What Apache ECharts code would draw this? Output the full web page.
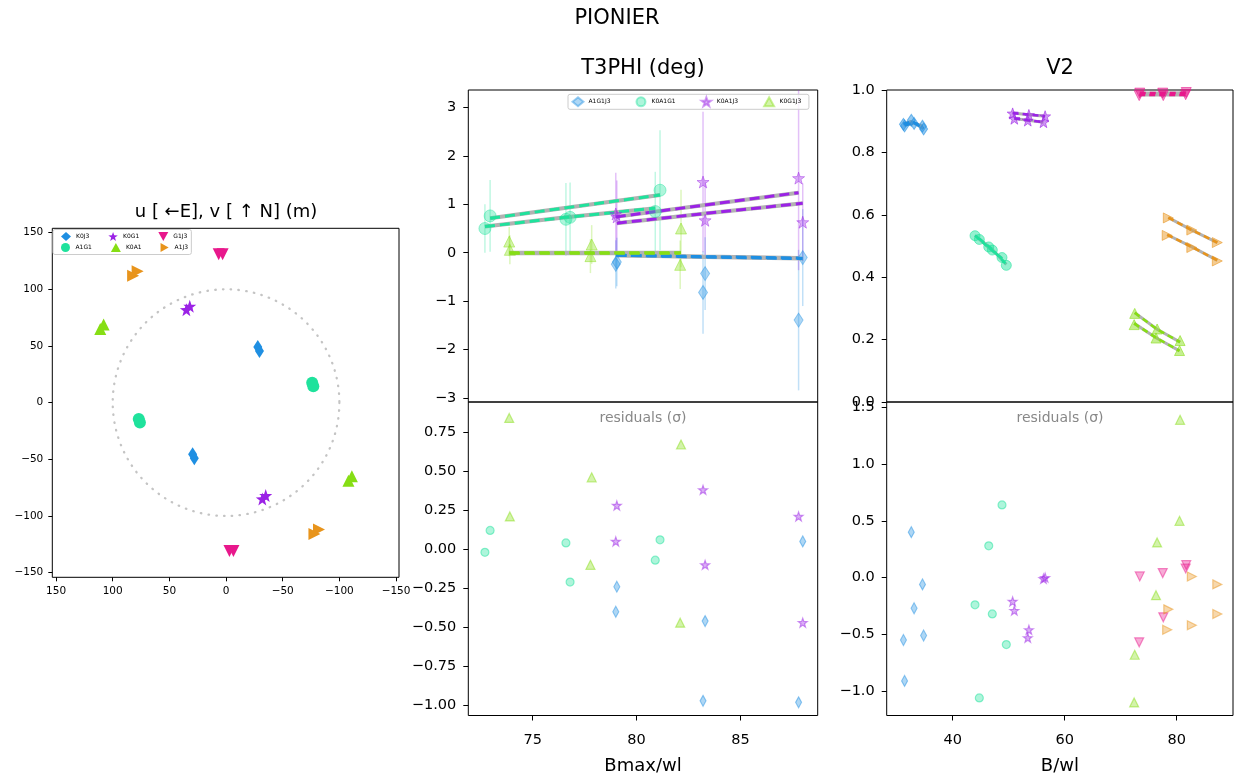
<!DOCTYPE html>
<html><head><meta charset="utf-8">
<script src="https://cdn.jsdelivr.net/npm/echarts@6/dist/echarts.min.js"></script>
<style>html,body{margin:0;padding:0;background:#fff}#c{width:1238px;height:778px}</style>
</head><body><div id="c"></div>
<script>
// ================= DATA =================
// uv coverage (m); u axis displayed with E to the left
const uvBaselines = ['K0J3','A1G1','K0G1','K0A1','G1J3','A1J3'];
const uvU_K0J3 = [-28, -29.5, 28, 29.5];   const uvV_K0J3 = [49, 45.5, -49, -45.5];
const uvU_A1G1 = [-76, -77, 76, 77];       const uvV_A1G1 = [17.5, 14.5, -17.5, -14.5];
const uvU_K0G1 = [35, 32, -35, -32];       const uvV_K0G1 = [82, 85, -82, -85];
const uvU_K0A1 = [111, 108, -111, -108];   const uvV_K0A1 = [65, 69, -65, -69];
const uvU_G1J3 = [6.5, 3, -6.5, -3];       const uvV_G1J3 = [131, 131, -131, -131];
const uvU_A1J3 = [82, 78, -82, -78];       const uvV_A1J3 = [112, 116, -112, -116];
const uvRefRadius = [100];

// closure phases (deg) vs Bmax/wl, two observations x three channels
const t3Triangles = ['A1G1J3','K0A1G1','K0A1J3','K0G1J3'];
const t3X_A1G1J3   = [[79.0, 83.2, 87.8], [79.05, 83.3, 88.0]];
const t3Phi_A1G1J3 = [[-0.24, -0.82, -1.39], [-0.19, -0.43, -0.10]];
const t3Err_A1G1J3 = [[0.50, 0.85, 1.45], [0.50, 0.75, 1.00]];
const t3Mod_A1G1J3 = [[-0.05, -0.08, -0.11], [-0.05, -0.09, -0.12]];
const t3Res_A1G1J3 = [[-0.40, -0.97, -0.98], [-0.24, -0.46, 0.05]];

const t3X_K0A1G1   = [[72.95, 76.8, 81.13], [72.7, 76.6, 80.9]];
const t3Phi_K0A1G1 = [[0.76, 0.73, 1.29], [0.50, 0.69, 0.85]];
const t3Err_K0A1G1 = [[0.74, 0.72, 1.24], [0.50, 0.75, 0.82]];
const t3Mod_K0A1G1 = [[0.71, 0.94, 1.19], [0.54, 0.73, 0.92]];
const t3Res_K0A1G1 = [[0.12, -0.21, 0.06], [-0.02, 0.04, -0.07]];

const t3X_K0A1J3   = [[79.0, 83.2, 87.8], [79.05, 83.3, 88.0]];
const t3Phi_K0A1J3 = [[0.80, 1.46, 1.54], [0.74, 0.67, 0.63]];
const t3Err_K0A1J3 = [[0.85, 1.45, 1.90], [0.75, 0.80, 0.80]];
const t3Mod_K0A1J3 = [[0.74, 0.98, 1.24], [0.61, 0.81, 1.02]];
const t3Res_K0A1J3 = [[0.05, 0.38, 0.21], [0.28, -0.10, -0.47]];

const t3X_K0G1J3   = [[73.87, 77.84, 82.14], [73.9, 77.78, 82.1]];
const t3Phi_K0G1J3 = [[0.23, 0.17, 0.50], [0.06, -0.07, -0.25]];
const t3Err_K0G1J3 = [[0.30, 0.40, 0.80], [0.30, 0.35, 0.50]];
const t3Mod_K0G1J3 = [[0.0, 0.0, 0.0], [-0.01, -0.01, -0.01]];
const t3Res_K0G1J3 = [[0.84, 0.46, 0.67], [0.21, -0.10, -0.47]];

// squared visibilities vs B/wl
const v2X_K0J3   = [[31.2, 32.6, 34.6], [31.4, 33.1, 34.8]];
const v2_K0J3    = [[0.890, 0.903, 0.884], [0.885, 0.893, 0.875]];
const v2Mod_K0J3 = [[0.891, 0.899, 0.884], [0.887, 0.894, 0.877]];
const v2Res_K0J3 = [[-0.55, 0.40, -0.06], [-0.91, -0.27, -0.51]];

const v2X_A1G1   = [[43.98, 46.43, 48.8], [44.75, 47.07, 49.57]];
const v2_A1G1    = [[0.533, 0.497, 0.463], [0.521, 0.487, 0.438]];
const v2Mod_A1G1 = [[0.534, 0.495, 0.460], [0.523, 0.489, 0.441]];
const v2Res_A1G1 = [[-0.24, 0.28, 0.64], [-1.06, -0.32, -0.59]];

const v2X_K0G1   = [[50.7, 53.6, 56.5], [51.0, 53.4, 56.2]];
const v2_K0G1    = [[0.925, 0.920, 0.916], [0.908, 0.902, 0.897]];
const v2Mod_K0G1 = [[0.926, 0.921, 0.916], [0.909, 0.903, 0.897]];
const v2Res_K0G1 = [[-0.21, -0.46, 0.0], [-0.29, -0.53, -0.01]];

const v2X_K0A1   = [[72.5, 76.5, 80.6], [72.4, 76.3, 80.5]];
const v2_K0A1    = [[0.284, 0.234, 0.197], [0.248, 0.205, 0.165]];
const v2Mod_K0A1 = [[0.286, 0.233, 0.192], [0.252, 0.206, 0.164]];
const v2Res_K0A1 = [[-0.68, 0.31, 1.39], [-1.10, -0.155, 0.50]];

const v2X_G1J3   = [[73.4, 77.5, 81.7], [73.3, 77.6, 81.6]];
const v2_G1J3    = [[0.990, 0.990, 0.992], [0.982, 0.982, 0.985]];
const v2Mod_G1J3 = [[0.990, 0.990, 0.991], [0.984, 0.984, 0.984]];
const v2Res_G1J3 = [[0.01, 0.04, 0.11], [-0.57, -0.35, 0.08]];

const v2X_A1J3   = [[78.5, 82.7, 87.25], [78.3, 82.7, 87.25]];
const v2_A1J3    = [[0.590, 0.551, 0.511], [0.534, 0.495, 0.452]];
const v2Mod_A1J3 = [[0.591, 0.551, 0.511], [0.536, 0.497, 0.454]];
const v2Res_A1J3 = [[-0.28, 0.01, -0.06], [-0.46, -0.42, -0.32]];

// tick labels
const uvTicks    = [150, 100, 50, 0, -50, -100, -150];
const t3Ticks    = [-3, -2, -1, 0, 1, 2, 3];
const t3ResTicks = [-1, -0.75, -0.5, -0.25, 0, 0.25, 0.5, 0.75];
const bmaxTicks  = [75, 80, 85];
const v2Ticks    = [0, 0.2, 0.4, 0.6, 0.8, 1.0];
const v2ResTicks = [-1, -0.5, 0, 0.5, 1, 1.5];
const bwlTicks   = [40, 60, 80];

// ================= STYLE =================
const FONT = 'DejaVu Sans';
const COL = {K0J3:'#1f8fe2', A1G1:'#1fe29c', K0G1:'#9b22e6', K0A1:'#86de14', G1J3:'#e8188c', A1J3:'#e8941c'};
const STAR = 'path://M50,0 L61.8,33.8 L97.6,34.6 L69,56.2 L79.4,90.5 L50,70 L20.6,90.5 L31,56.2 L2.4,34.6 L38.2,33.8 Z';
const TRI_UP = 'path://M50,0 L100,90 L0,90 Z';
const TRI_DOWN = 'path://M0,0 L100,0 L50,90 Z';
const TRI_RIGHT = 'path://M0,0 L90,50 L0,100 Z';
const SYM = {
  K0J3:{symbol:'diamond', uv:[9,14], v2:[8,12], res:[6,11]},
  A1G1:{symbol:'circle',  uv:12,     v2:10,     res:8},
  K0G1:{symbol:STAR,      uv:13,     v2:11,     res:9},
  K0A1:{symbol:TRI_UP,    uv:12,     v2:10,     res:9},
  G1J3:{symbol:TRI_DOWN,  uv:12,     v2:10,     res:9},
  A1J3:{symbol:TRI_RIGHT, uv:12,     v2:10,     res:9}
};
const T3STY = {
  A1G1J3:{color:COL.K0J3, symbol:'diamond', size:[9,14], res:[6,11]},
  K0A1G1:{color:COL.A1G1, symbol:'circle', size:12, res:8},
  K0A1J3:{color:COL.K0G1, symbol:STAR, size:12, res:9},
  K0G1J3:{color:COL.K0A1, symbol:TRI_UP, size:11, res:9}
};
function rgba(hex,a){const n=parseInt(hex.slice(1),16);return `rgba(${n>>16},${(n>>8)&255},${n&255},${a})`;}
const minus = s => s.replace('-', '\u2212');
const fmtInt = v => minus(String(Math.round(v)));
const fmt1 = v => minus(v.toFixed(1));
const fmt2 = v => minus(v.toFixed(2));

// ================= BUILD =================
const uvData = {K0J3:[uvU_K0J3,uvV_K0J3], A1G1:[uvU_A1G1,uvV_A1G1], K0G1:[uvU_K0G1,uvV_K0G1],
                K0A1:[uvU_K0A1,uvV_K0A1], G1J3:[uvU_G1J3,uvV_G1J3], A1J3:[uvU_A1J3,uvV_A1J3]};
const t3Data = {
  A1G1J3:[t3X_A1G1J3,t3Phi_A1G1J3,t3Err_A1G1J3,t3Mod_A1G1J3,t3Res_A1G1J3],
  K0A1G1:[t3X_K0A1G1,t3Phi_K0A1G1,t3Err_K0A1G1,t3Mod_K0A1G1,t3Res_K0A1G1],
  K0A1J3:[t3X_K0A1J3,t3Phi_K0A1J3,t3Err_K0A1J3,t3Mod_K0A1J3,t3Res_K0A1J3],
  K0G1J3:[t3X_K0G1J3,t3Phi_K0G1J3,t3Err_K0G1J3,t3Mod_K0G1J3,t3Res_K0G1J3]
};
const v2Data = {
  K0J3:[v2X_K0J3,v2_K0J3,v2Mod_K0J3,v2Res_K0J3], A1G1:[v2X_A1G1,v2_A1G1,v2Mod_A1G1,v2Res_A1G1],
  K0G1:[v2X_K0G1,v2_K0G1,v2Mod_K0G1,v2Res_K0G1], K0A1:[v2X_K0A1,v2_K0A1,v2Mod_K0A1,v2Res_K0A1],
  G1J3:[v2X_G1J3,v2_G1J3,v2Mod_G1J3,v2Res_G1J3], A1J3:[v2X_A1J3,v2_A1J3,v2Mod_A1J3,v2Res_A1J3]
};

const series = [];
// reference circle in uv plane
series.push({type:'custom', name:'ref', xAxisIndex:0, yAxisIndex:0, silent:true, z:1, clip:true,
  data: uvRefRadius.map(r=>[0,0,r]),
  renderItem:(p,api)=>{const c=api.coord([api.value(0),api.value(1)]);const r=api.size([api.value(2),0])[0];
    return {type:'circle', shape:{cx:c[0],cy:c[1],r:r}, style:{fill:'none',stroke:'#c4c4c4',lineWidth:2.3,lineDash:[0.5,7.3],lineCap:'round'}};}
});
uvBaselines.forEach(b=>{
  const [u,v]=uvData[b];
  series.push({type:'scatter', name:b, xAxisIndex:0, yAxisIndex:0, z:3,
    data:u.map((x,i)=>[x,v[i]]), symbol:SYM[b].symbol, symbolSize:SYM[b].uv,
    itemStyle:{color:COL[b], opacity:1}});
});

function modelLines(xs, ms, xi, yi, color, gw, cw, dash){
  xs.forEach((xo,k)=>{
    const d = xo.map((x,i)=>[x, ms[k][i]]);
    series.push({type:'line', name:'_m', xAxisIndex:xi, yAxisIndex:yi, data:d, symbol:'none', silent:true, z:2,
      lineStyle:{color:'#b2b2b2', width:gw}});
    series.push({type:'line', name:'_m', xAxisIndex:xi, yAxisIndex:yi, data:d, symbol:'none', silent:true, z:2.1,
      lineStyle:{color:color, width:cw, type:dash}});
  });
}

t3Triangles.forEach(t=>{
  const [X,P,E,M,R]=t3Data[t]; const s=T3STY[t]; const c=s.color;
  const pts=[]; X.forEach((xo,k)=>xo.forEach((x,i)=>pts.push([x,P[k][i],E[k][i]])));
  series.push({type:'custom', name:'_e', xAxisIndex:1, yAxisIndex:1, silent:true, z:1, clip:true, data:pts,
    encode:{x:0,y:1},
    renderItem:(p,api)=>{const x=api.value(0),y=api.value(1),e=api.value(2);
      const a=api.coord([x,y-e]), b=api.coord([x,y+e]);
      return {type:'line', shape:{x1:a[0],y1:a[1],x2:b[0],y2:b[1]}, style:{stroke:rgba(c,0.28),lineWidth:1.5}};}
  });
  modelLines(X, M, 1, 1, c, 4, 3, [10,5]);
  series.push({type:'scatter', name:t, xAxisIndex:1, yAxisIndex:1, z:3, data:pts.map(q=>[q[0],q[1]]),
    symbol:s.symbol, symbolSize:s.size,
    itemStyle:{color:rgba(c,0.45), borderColor:rgba(c,0.55), borderWidth:1}});
  const rp=[]; X.forEach((xo,k)=>xo.forEach((x,i)=>rp.push([x,R[k][i]])));
  series.push({type:'scatter', name:t+'_r', xAxisIndex:2, yAxisIndex:2, z:3, data:rp,
    symbol:s.symbol, symbolSize:s.res,
    itemStyle:{color:rgba(c,0.45), borderColor:rgba(c,0.6), borderWidth:1.2}});
});

uvBaselines.forEach(b=>{
  const [X,V,M,R]=v2Data[b]; const s=SYM[b]; const c=COL[b];
  modelLines(X, M, 3, 3, c, 3, 2.5, [6,4]);
  const vp=[]; X.forEach((xo,k)=>xo.forEach((x,i)=>vp.push([x,V[k][i]])));
  series.push({type:'scatter', name:b+'_v2', xAxisIndex:3, yAxisIndex:3, z:3, data:vp,
    symbol:s.symbol, symbolSize:s.v2,
    itemStyle:{color:rgba(c,0.6), borderColor:rgba(c,0.7), borderWidth:1}});
  const rp=[]; X.forEach((xo,k)=>xo.forEach((x,i)=>rp.push([x,R[k][i]])));
  series.push({type:'scatter', name:b+'_r', xAxisIndex:4, yAxisIndex:4, z:3, data:rp,
    symbol:s.symbol, symbolSize:s.res,
    itemStyle:{color:rgba(c,0.45), borderColor:rgba(c,0.6), borderWidth:1.2}});
});

// ================= AXES / LAYOUT =================
const gridBase = {show:true, borderColor:'#000', borderWidth:1, backgroundColor:'transparent'};
const grid = [
  {left:52.3, top:228.3, width:346.7, height:349},
  {left:468.3, top:90, width:349.4, height:312},
  {left:468.3, top:402, width:349.4, height:313.5},
  {left:886.7, top:90, width:346.3, height:312},
  {left:886.7, top:402, width:346.3, height:313.5}
].map(g=>Object.assign({}, gridBase, g));

function axis(gi, min, max, ticks, fmt, fs, margin, tl, extra){
  const a = {type:'value', gridIndex:gi, min:min, max:max, splitLine:{show:false},
    axisLine:{show:false, onZero:false},
    axisTick:{show:!!ticks, customValues:ticks||[], length:tl, lineStyle:{color:'#000', width:1}},
    axisLabel:{show:!!ticks, customValues:ticks||[], formatter:fmt, fontSize:fs, color:'#000', fontFamily:FONT, margin:margin}};
  return Object.assign(a, extra||{});
}
const nameStyle = {fontSize:18, color:'#000', fontFamily:FONT};
const xAxis = [
  axis(0, -152.6, 153.3, uvTicks, fmtInt, 10.5, 8, 4, {inverse:true}),
  axis(1, 71.90, 88.72, null, null, 14.5, 12, 5),
  axis(2, 71.90, 88.72, bmaxTicks, fmtInt, 14.5, 17, 5, {name:'Bmax/wl', nameLocation:'middle', nameGap:42, nameTextStyle:nameStyle}),
  axis(3, 28.21, 90.05, null, null, 14.5, 12, 5),
  axis(4, 28.21, 90.05, bwlTicks, fmtInt, 14.5, 17, 5, {name:'B/wl', nameLocation:'middle', nameGap:42, nameTextStyle:nameStyle})
];
const yAxis = [
  axis(0, -154.1, 153.8, uvTicks, fmtInt, 10.5, 9, 4),
  axis(1, -3.08, 3.358, t3Ticks, fmtInt, 14.5, 12, 5),
  axis(2, -1.064, 0.942, t3ResTicks, fmt2, 14.5, 12, 5),
  axis(3, 0, 1.0, v2Ticks, fmt1, 14.5, 12, 5),
  axis(4, -1.215, 1.547, v2ResTicks, fmt1, 14.5, 12, 5)
];

const tStyle = (fs, col) => ({fontSize:fs, fontWeight:'normal', color:col||'#000', fontFamily:FONT});
const title = [
  {text:'PIONIER', left:617, top:8, textAlign:'center', padding:0, textStyle:tStyle(21)},
  {text:'T3PHI (deg)', left:643, top:58, textAlign:'center', padding:0, textStyle:tStyle(21)},
  {text:'V2', left:1060, top:58, textAlign:'center', padding:0, textStyle:tStyle(21)},
  {text:'u [ \u2190E], v [ \u2191 N] (m)', left:226, top:203.5, textAlign:'center', padding:0, textStyle:tStyle(18)},
  {text:'residuals (\u03c3)', left:643, top:411, textAlign:'center', padding:0, textStyle:tStyle(14,'#888')},
  {text:'residuals (\u03c3)', left:1060, top:411, textAlign:'center', padding:0, textStyle:tStyle(14,'#888')}
];

const legBase = {orient:'horizontal', selectedMode:false, textStyle:{fontSize:6, fontFamily:FONT, color:'#000'}};
const legend = [
  Object.assign({}, legBase, {data:['K0J3','K0G1','G1J3'], left:53, top:229.5, padding:[2.5,4,13.5,8],
    itemWidth:10, itemHeight:9, itemGap:19, textStyle:Object.assign({}, legBase.textStyle,{width:22}),
    borderColor:'#cccccc', borderWidth:1, borderRadius:2, backgroundColor:'rgba(255,255,255,0.8)'}),
  Object.assign({}, legBase, {data:['A1G1','K0A1','A1J3'], left:53, top:240.5, padding:[2.5,4,2.5,8],
    itemWidth:10, itemHeight:9, itemGap:19, textStyle:Object.assign({}, legBase.textStyle,{width:22}), z:5}),
  Object.assign({}, legBase, {data:t3Triangles, left:568, top:94.3, padding:[2,7.5,2,3.5],
    itemWidth:11, itemHeight:9, itemGap:25, textStyle:Object.assign({}, legBase.textStyle,{width:24}),
    borderColor:'#cccccc', borderWidth:1, borderRadius:2, backgroundColor:'rgba(255,255,255,0.8)'})
];

const chart = echarts.init(document.getElementById('c'), null, {renderer:'canvas'});
chart.setOption({animation:false, backgroundColor:'#fff', title, legend, grid, xAxis, yAxis, series});
</script>
</body></html>
